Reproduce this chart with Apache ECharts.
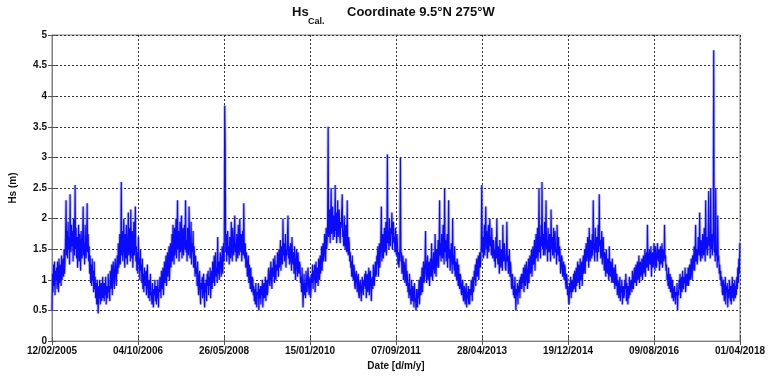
<!DOCTYPE html>
<html><head><meta charset="utf-8">
<script src="https://cdn.jsdelivr.net/npm/echarts@6/dist/echarts.min.js"></script>
<style>html,body{margin:0;padding:0;background:#fff}#c{width:768px;height:376px}</style>
</head><body><div id="c"></div>
<script>
// Tick labels of the date axis (equally spaced, 599.5 days apart, starting 12/02/2005)
const dateTickLabels = ['12/02/2005','04/10/2006','26/05/2008','15/01/2010','07/09/2011','28/04/2013','19/12/2014','09/08/2016','01/04/2018'];
const totalDays = 4796;
const stepDays = 3.5; // one reading every 3.5 days, starting 12/02/2005

// Hs values (m), one block per year (starting mid-February)
const hs2005 = [0.5,1.1,0.8,1.25,0.9,1.3,0.75,1.15,1.0,1.2,0.85,1.3,1.05,0.8,1.35,0.95,1.1,1.25,0.9,1.4,1.0,1.2,1.35,1.05,1.5,1.1,1.3,1.7,2.3,1.4,1.8,1.35,1.95,1.5,1.7,1.25,2.4,1.6,1.45,1.9,1.55,1.8,1.3,2.0,1.65,1.4,2.55,1.5,1.85,1.35,1.7,1.2,1.6,1.9,1.3,1.75,1.45,1.15,1.8,1.5,1.35,1.7,2.2,1.4,1.6,1.25,1.9,1.5,1.35,1.65,2.25,1.45,1.75,1.3,1.55,1.1,1.4,0.95,1.25,0.9,1.35,1.0,1.15,0.8,1.3,0.85,1.05,0.7,0.95,0.6,1.0,0.75,0.45,0.9,0.7,1.0,0.6,0.85,0.95,0.65,0.8,1.05,0.7,0.95];
const hs2006 = [0.65,0.95,0.75,1.05,0.6,0.9,0.85,0.7,1.1,0.8,0.9,0.65,1.15,0.85,0.95,1.25,0.75,1.1,1.3,1.0,0.85,1.2,1.35,1.05,0.9,1.25,1.4,1.1,1.6,1.2,1.35,1.75,1.25,1.5,2.6,1.4,1.8,1.3,1.6,2.0,1.45,1.2,1.75,1.35,1.9,1.5,1.25,1.7,2.1,1.4,1.55,1.85,1.3,2.15,1.6,1.35,1.8,1.2,1.5,1.95,1.4,1.7,2.2,1.3,1.55,1.15,1.45,1.1,1.7,1.25,1.35,1.0,1.5,1.15,1.25,0.95,1.35,0.85,1.1,0.8,1.2,0.9,0.95,1.15,0.75,1.05,1.25,0.85,0.7,1.0,0.9,0.65,1.1,0.75,0.8,0.6,0.95,0.7,0.55,0.85,0.75,1.0,0.65,0.9];
const hs2007 = [0.6,0.9,0.7,1.0,0.55,0.85,0.8,1.05,0.95,0.7,1.15,0.85,0.9,1.2,0.75,1.05,1.3,0.95,1.1,1.4,0.9,1.2,1.45,1.05,1.25,1.55,1.0,1.35,1.6,1.2,1.4,1.75,1.3,1.9,1.55,1.25,1.85,1.4,1.6,2.0,1.35,1.7,2.3,1.5,1.8,1.3,1.55,1.95,1.45,1.75,2.05,1.35,1.6,1.85,1.4,1.7,1.9,1.5,2.3,1.45,1.65,1.3,1.85,1.55,1.4,2.2,1.7,1.35,1.5,1.95,1.25,1.6,1.45,1.8,1.2,1.55,1.35,1.05,1.4,1.1,1.2,0.9,1.3,0.95,0.75,1.05,1.15,0.8,0.6,0.95,0.85,1.05,0.7,0.9,1.1,0.75,0.55,0.95,0.8,1.0,0.65,1.1,0.9,1.15];
const hs2008 = [0.75,1.05,0.9,1.2,0.7,1.0,1.15,0.85,1.3,0.95,1.1,1.4,0.9,1.25,1.45,1.05,1.2,0.95,1.7,1.1,1.3,1.0,1.15,1.45,1.35,1.05,1.25,1.55,1.1,1.4,1.6,1.3,3.85,3.2,1.45,1.75,1.3,1.65,1.8,1.4,1.55,1.25,1.7,1.45,1.35,1.95,1.6,1.3,1.85,1.5,1.4,1.7,2.05,1.45,1.6,1.3,1.75,1.5,1.35,1.9,1.55,1.4,2.0,1.6,1.45,1.75,1.3,1.65,1.8,1.4,2.25,1.5,1.35,1.6,1.2,1.45,1.35,1.05,1.15,1.4,0.95,1.25,1.1,0.85,1.2,0.9,0.8,1.05,1.0,0.75,0.9,0.65,0.85,0.6,0.95,0.7,0.55,0.8,0.75,0.95,0.5,0.85,0.7,0.9];
const hs2009 = [0.6,0.9,0.75,1.0,0.55,0.85,0.95,0.7,0.8,1.05,0.65,0.95,1.0,0.75,0.85,1.15,1.2,0.95,0.9,1.1,1.3,1.0,0.85,1.2,1.05,1.35,1.2,0.95,1.4,1.1,1.0,1.25,1.15,1.45,1.3,1.05,1.5,1.2,1.35,1.65,1.15,1.55,1.45,1.25,2.0,1.4,1.6,1.3,1.45,1.75,1.2,1.5,1.4,1.7,2.05,1.35,1.55,1.25,1.3,1.6,1.5,1.15,1.7,1.35,1.25,1.45,1.1,1.55,1.35,1.0,1.2,1.5,1.3,1.05,1.45,1.2,1.1,1.3,1.25,0.95,1.05,0.8,1.2,0.9,0.55,0.85,1.1,0.75,0.95,0.7,1.15,0.85,0.8,1.05,1.2,0.9,0.75,1.0,1.05,0.7,0.85,1.1,0.95,1.25];
const hs2010 = [0.85,1.15,1.0,1.25,0.8,1.1,1.3,0.95,1.05,1.2,0.9,1.35,1.15,1.0,1.4,1.1,1.25,1.55,1.15,1.45,1.6,1.3,1.4,1.75,1.55,1.3,1.85,1.5,1.6,1.95,3.5,1.7,1.9,2.15,1.6,2.0,2.5,1.75,1.85,2.2,1.65,2.05,1.95,1.7,2.55,1.8,2.1,1.6,1.9,2.3,1.7,2.0,2.15,1.75,1.6,1.95,1.85,2.1,2.4,1.7,1.8,1.55,2.05,1.65,1.5,1.9,1.75,1.45,2.3,1.55,1.4,1.7,1.6,1.3,1.45,1.2,1.3,1.05,1.4,1.1,1.0,1.25,1.2,0.9,0.85,1.1,1.15,0.95,0.8,1.05,1.1,0.75,0.7,0.95,1.0,0.8,0.65,0.9,1.05,0.85,0.75,1.0,0.9,1.1];
const hs2011 = [0.85,1.15,0.7,1.0,1.1,0.8,0.95,1.2,0.75,1.05,1.15,0.9,0.65,1.0,1.05,0.85,1.25,0.95,0.9,1.2,1.3,1.05,1.1,1.4,1.25,1.55,1.05,1.35,1.6,1.2,1.4,1.7,2.2,1.3,1.5,1.75,1.35,1.6,1.85,1.45,1.55,1.95,1.4,1.7,3.05,1.6,1.8,1.5,2.0,1.65,1.55,1.85,1.75,2.1,1.5,1.9,1.95,1.6,1.7,1.45,1.85,1.55,1.4,1.75,1.6,1.25,1.45,1.2,1.35,1.55,3.0,1.3,1.45,1.1,1.2,1.4,1.0,1.3,1.25,0.95,1.1,1.35,0.9,1.15,1.05,0.8,0.95,0.7,1.1,0.75,0.85,0.6,1.0,0.7,0.65,0.9,0.8,0.55,0.95,0.65,0.7,0.5,0.85,0.6];
const hs2012 = [0.55,0.85,0.7,1.0,0.6,0.9,1.05,0.75,0.9,1.2,0.8,1.1,1.3,0.95,1.05,1.35,1.8,1.1,0.95,1.25,1.4,1.0,1.15,1.3,0.9,1.2,1.35,1.05,1.6,1.15,1.0,1.3,1.45,1.2,1.1,1.75,1.3,1.05,1.5,1.2,1.35,1.65,1.2,1.5,2.3,1.4,1.6,1.3,1.75,1.45,1.35,1.9,1.55,1.25,2.5,1.45,1.65,1.3,1.5,1.75,1.2,1.55,2.3,1.35,1.5,1.15,1.3,1.6,1.45,1.1,2.0,1.25,1.4,1.15,1.55,1.05,1.3,1.2,1.0,1.35,1.15,0.9,1.25,0.95,0.85,1.1,1.05,0.8,0.75,0.95,1.0,0.7,0.65,0.9,0.85,0.6,0.75,0.95,0.55,0.8,0.7,0.9,0.6,0.85];
const hs2013 = [0.6,0.85,0.75,1.0,0.9,0.65,1.05,0.8,0.85,1.15,1.0,1.25,0.9,1.2,1.35,1.05,1.15,1.4,1.0,1.3,1.45,1.2,1.3,1.6,2.55,1.45,1.7,1.35,1.55,1.9,1.4,1.75,2.2,1.5,1.8,1.35,1.6,1.9,1.45,1.7,2.0,1.55,1.7,1.4,1.85,1.5,1.35,1.65,1.6,1.3,1.5,1.2,1.7,1.35,2.0,1.45,1.25,1.55,1.4,1.1,1.65,1.3,1.2,1.5,1.45,1.15,1.9,1.35,1.3,1.6,1.45,1.2,1.15,1.4,1.95,1.3,1.4,1.1,1.25,1.5,1.05,1.3,1.2,0.9,0.85,1.1,1.0,0.75,0.9,0.7,1.05,0.8,0.5,0.85,0.75,0.95,0.6,0.9,0.8,1.0,0.7,1.05,0.85,1.1];
const hs2014 = [0.85,1.1,0.95,1.2,0.8,1.05,1.25,0.9,1.0,1.3,1.15,0.85,1.05,1.35,0.95,1.2,1.4,1.1,1.2,1.5,1.05,1.35,1.55,1.25,1.3,1.65,1.15,1.45,1.75,1.35,1.5,1.85,1.3,1.6,2.5,1.45,1.7,1.35,1.9,1.55,2.6,1.5,1.75,1.4,1.6,1.95,1.4,1.7,2.3,1.5,1.65,1.3,1.85,1.55,1.45,1.75,1.6,1.3,2.15,1.5,1.7,1.4,1.55,1.85,1.35,1.65,1.8,1.45,1.5,1.25,1.9,1.55,1.4,1.7,1.3,1.55,1.45,1.1,1.2,1.4,1.35,1.05,1.15,1.3,1.0,1.25,1.2,0.95,0.85,1.1,1.0,0.75,0.9,0.65,0.6,0.95,0.8,1.05,0.7,0.9,1.0,0.8,0.85,1.1];
const hs2015 = [0.85,1.15,1.0,0.8,1.2,0.9,1.05,1.3,0.95,1.25,1.15,0.85,1.35,1.0,1.1,1.3,0.9,1.2,1.4,1.1,1.25,1.5,1.1,1.45,1.6,1.3,1.35,1.7,1.5,1.2,1.85,1.45,1.3,1.65,1.55,1.35,1.75,1.4,2.3,1.5,1.6,1.3,1.85,1.55,1.45,1.7,1.3,1.6,1.9,1.45,2.4,1.55,1.65,1.35,1.5,1.8,1.25,1.5,1.7,1.35,1.15,1.45,1.3,1.05,1.5,1.2,1.1,1.35,1.25,1.0,1.55,1.15,1.05,1.3,1.2,0.95,1.35,1.05,0.95,1.2,1.1,0.85,1.25,1.0,0.9,1.1,0.75,1.0,0.95,0.7,0.85,1.05,0.65,0.9,0.8,1.0,0.6,0.85,0.9,0.7,0.75,1.0,0.85,1.1];
const hs2016 = [0.65,0.95,0.8,0.6,0.9,0.7,1.05,0.75,0.85,1.0,0.95,0.8,1.15,0.9,0.85,1.1,1.2,0.95,1.0,1.25,0.9,1.15,1.3,1.0,1.1,1.4,0.95,1.2,1.3,1.05,1.15,1.35,1.0,1.25,1.4,1.1,1.2,1.5,1.05,1.35,1.45,1.2,1.9,1.3,1.15,1.4,1.5,1.25,1.3,1.55,1.05,1.35,1.45,1.2,1.25,1.6,1.4,1.15,1.55,1.3,1.2,1.45,1.6,1.35,1.3,1.5,1.15,1.45,1.55,1.25,1.35,1.6,1.2,1.5,1.45,1.3,1.9,1.35,1.4,1.15,1.25,1.0,1.1,0.9,1.2,0.85,0.95,1.1,0.8,1.05,0.9,0.7,1.0,0.75,0.65,0.85,0.9,0.7,0.6,0.8,0.75,0.95,0.5,0.8];
const hs2017 = [0.75,1.0,0.85,1.1,0.7,0.95,1.05,0.8,1.15,0.9,0.85,1.05,0.95,1.2,0.8,1.0,1.1,0.9,1.0,1.2,0.9,1.15,1.25,1.0,1.05,1.35,1.2,1.0,1.4,1.15,1.3,1.55,1.15,1.45,1.9,1.3,1.5,1.25,1.35,1.7,1.6,1.4,2.1,1.45,1.3,1.65,1.55,1.35,1.75,1.5,1.4,1.85,1.6,1.3,2.3,1.5,1.7,1.4,1.45,1.8,2.45,1.55,1.65,1.35,2.5,1.5,1.75,1.4,1.55,1.85,4.75,1.45,1.6,1.3,2.5,1.4,1.5,1.2,2.05,1.3,1.4,1.1,1.25,1.0,1.15,0.9,1.05,0.8,0.75,1.0,0.9,0.65,0.85,1.05,0.6,0.9,0.8,0.95,0.55,0.85,0.7,1.0,0.9,0.65];
const hs2018 = [0.9,0.6,0.85,1.05,0.7,0.95,0.65,0.8,1.0,0.7,0.9,0.75,1.05,0.85,1.2,0.95,1.35,1.1,1.6];

const hsAll = [].concat(hs2005,hs2006,hs2007,hs2008,hs2009,hs2010,hs2011,hs2012,hs2013,hs2014,hs2015,hs2016,hs2017,hs2018);
const seriesData = hsAll.map((v,i)=>[i*stepDays, v]);
const tickStep = totalDays/(dateTickLabels.length-1);

const F = 'Liberation Sans, Arial, sans-serif';
const gridLine = {show:true, lineStyle:{type:[2,2], color:'#333', width:1}};
const chart = echarts.init(document.getElementById('c'));
chart.setOption({
  animation:false,
  backgroundColor:'#fff',
  grid:{left:52, right:27, top:35, bottom:34, show:true, borderColor:'#808080', borderWidth:1},
  graphic:[
    {type:'text', left:292, top:6, style:{text:'Hs', font:'bold 13px '+F, fill:'#111'}},
    {type:'text', left:308, top:17, style:{text:'Cal.', font:'bold 9px '+F, fill:'#111'}},
    {type:'text', left:347, top:6, style:{text:'Coordinate 9.5°N 275°W', font:'bold 13px '+F, fill:'#111'}}
  ],
  xAxis:[{
    type:'value', min:0, max:totalDays, interval:tickStep,
    axisLine:{show:true, lineStyle:{color:'#808080'}},
    axisTick:{show:true, inside:true, length:4, lineStyle:{color:'#555'}},
    axisLabel:{fontFamily:F, fontWeight:'bold', fontSize:10, color:'#111', margin:5,
      formatter:v=>dateTickLabels[Math.round(v/tickStep)]||''},
    splitLine:gridLine,
    name:'Date [d/m/y]', nameLocation:'middle', nameGap:18,
    nameTextStyle:{fontFamily:F, fontWeight:'bold', fontSize:10, color:'#111'}
  },{
    type:'value', position:'top', min:0, max:totalDays, interval:tickStep,
    axisLine:{show:false}, axisLabel:{show:false}, splitLine:{show:false},
    axisTick:{show:true, inside:true, length:4, lineStyle:{color:'#555'}}
  }],
  yAxis:[{
    type:'value', min:0, max:5, interval:0.5,
    axisLine:{show:true, lineStyle:{color:'#808080'}},
    axisTick:{show:true, inside:true, length:4, lineStyle:{color:'#555'}},
    axisLabel:{fontFamily:F, fontWeight:'bold', fontSize:10, color:'#111', margin:5},
    splitLine:gridLine,
    name:'Hs (m)', nameLocation:'middle', nameGap:34, nameRotate:90,
    nameTextStyle:{fontFamily:F, fontWeight:'bold', fontSize:10, color:'#111'}
  },{
    type:'value', position:'right', min:0, max:5, interval:0.5,
    axisLine:{show:false}, axisLabel:{show:false}, splitLine:{show:false},
    axisTick:{show:true, inside:true, length:4, lineStyle:{color:'#555'}}
  }],
  series:[{
    type:'line', data:seriesData, showSymbol:false, symbol:'none', sampling:null, silent:true,
    lineStyle:{color:'#8c8cff', width:3, opacity:0.55}, itemStyle:{color:'#8c8cff'}, z:2
  },{
    type:'line', data:seriesData, showSymbol:false, symbol:'none', sampling:null,
    lineStyle:{color:'#0a0aff', width:1.2}, itemStyle:{color:'#0a0aff'}, z:3
  }]
});
</script></body></html>
